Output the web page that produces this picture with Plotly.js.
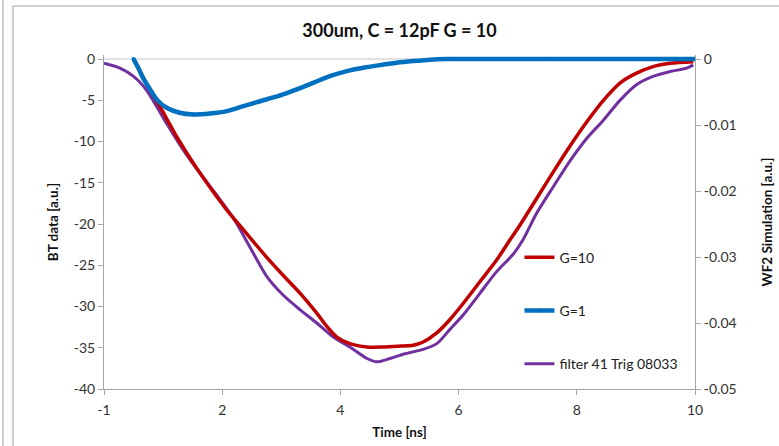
<!DOCTYPE html>
<html>
<head>
<meta charset="utf-8">
<script src="https://cdn.plot.ly/plotly-3.0.1.min.js"></script>
<style>html,body{margin:0;padding:0;background:#fff;}#chart{width:779px;height:446px;}</style>
</head>
<body>
<div id="chart"></div>
<script>
// X axis tick positions and their printed labels
const xTickVals = [0, 2, 4, 6, 8, 10];
const xTickText = ['-1', '2', '4', '6', '8', '10'];
// Left axis ticks
const yTickVals = [0, -5, -10, -15, -20, -25, -30, -35, -40];
const yTickText = ['0', '-5', '-10', '-15', '-20', '-25', '-30', '-35', '-40'];
// Right axis ticks
const y2TickVals = [0, -0.01, -0.02, -0.03, -0.04, -0.05];
const y2TickText = ['0', '-0.01', '-0.02', '-0.03', '-0.04', '-0.05'];

// G=10 (right axis, WF2 Simulation)
const g10Time = [0.5,0.58,0.66,0.72,0.95,1.23,1.51,1.79,2.08,2.36,2.75,3.03,3.32,3.60,3.77,3.94,4.16,4.45,4.72,5.01,5.23,5.40,5.63,5.85,6.08,6.36,6.64,6.87,7.04,7.32,7.60,7.88,8.17,8.45,8.73,9.01,9.29,9.58,9.97];
const g10Vals = [0,-0.00138,-0.00275,-0.00375,-0.00725,-0.01175,-0.01575,-0.01938,-0.02288,-0.02588,-0.03,-0.03275,-0.0355,-0.0385,-0.0405,-0.04213,-0.04313,-0.04363,-0.04363,-0.0435,-0.04338,-0.04288,-0.0415,-0.0395,-0.037,-0.03375,-0.0305,-0.02738,-0.02513,-0.02113,-0.01713,-0.01325,-0.0095,-0.00625,-0.00363,-0.00213,-0.00113,-0.00063,-0.00038];

// G=1 (right axis, WF2 Simulation)
const g1Time = [0.5,0.58,0.66,0.78,0.89,1.06,1.28,1.51,1.79,2.08,2.36,2.64,2.98,3.26,3.54,3.82,4.11,4.39,4.67,4.95,5.23,5.52,5.8,6.5,7.5,8.5,9.5,10];
const g1Vals = [0,-0.00131,-0.00284,-0.00459,-0.0061,-0.00738,-0.00813,-0.00838,-0.00825,-0.00788,-0.00713,-0.00638,-0.0055,-0.00459,-0.00359,-0.00258,-0.00181,-0.00131,-0.00091,-0.00056,-0.0003,-0.00008,0,0,0,0,0,0];

// filter 41 Trig 08033 (left axis, BT data)
const btTime = [0,0.27,0.5,0.67,0.83,1.06,1.34,1.62,1.91,2.19,2.47,2.75,3.03,3.32,3.60,3.88,4.16,4.45,4.62,4.84,5.01,5.23,5.40,5.63,5.85,6.08,6.36,6.64,6.93,7.09,7.32,7.60,7.88,8.17,8.45,8.73,9.01,9.29,9.58,9.86,9.97];
const btVals = [-0.5,-1.1,-2.1,-3.3,-5.0,-7.8,-11.0,-13.8,-16.5,-19.3,-22.8,-26.3,-28.6,-30.4,-32.0,-33.7,-34.9,-36.3,-36.7,-36.3,-35.9,-35.5,-35.2,-34.5,-32.8,-31.0,-28.4,-25.8,-23.6,-21.9,-18.7,-15.5,-12.4,-9.6,-7.4,-5.0,-3.1,-2.1,-1.5,-1.1,-0.7];

const FONT = 'Lato, "Open Sans", sans-serif';
const AX = '#a6a6a6';

const traces = [
  {x: g10Time, y: g10Vals, yaxis: 'y2', name: 'G=10', mode: 'lines', legendgroup: 'a',
   line: {color: '#c00000', width: 3.5, shape: 'spline', smoothing: 0.8}},
  {x: g1Time, y: g1Vals, yaxis: 'y2', name: 'G=1', mode: 'lines+markers', legendgroup: 'b',
   line: {color: '#0070c0', width: 4.5, shape: 'spline', smoothing: 0.8}, marker: {color: '#0070c0', size: 4}},
  {x: btTime, y: btVals, yaxis: 'y', name: 'filter 41 Trig 08033', mode: 'lines', legendgroup: 'c',
   line: {color: '#7030a0', width: 3, shape: 'spline', smoothing: 0.8}}
];

const layout = {
  width: 779, height: 446,
  margin: {l: 104, r: 84, t: 55, b: 57},
  paper_bgcolor: '#fff', plot_bgcolor: '#fff',
  font: {family: FONT, size: 14, color: '#333'},
  title: {text: '<b>300um, C = 12pF G = 10</b>', x: 0.5, xref: 'paper', xanchor: 'center',
          y: 1 - 31/446, yanchor: 'middle', font: {family: FONT, size: 18, color: '#111'}},
  xaxis: {range: [0, 10], tickvals: xTickVals, ticktext: xTickText,
          showline: true, linecolor: AX, linewidth: 1, ticks: 'outside', ticklen: 5, tickcolor: AX,
          showgrid: false, zeroline: false, ticklabelstandoff: 3,
          title: {text: '<b>Time [ns]</b>', font: {size: 13.5, color: '#111'}, standoff: 10}},
  yaxis: {range: [-40, 0.5], tickvals: yTickVals, ticktext: yTickText,
          showline: true, linecolor: AX, linewidth: 1, ticks: 'outside', ticklen: 5, tickcolor: AX,
          showgrid: false, zeroline: false,
          title: {text: '<b>BT data [a.u.]</b>', font: {size: 13.5, color: '#111'}, standoff: 12}},
  yaxis2: {range: [-0.05, 0.000625], overlaying: 'y', side: 'right',
           tickvals: y2TickVals, ticktext: y2TickText,
           showline: true, linecolor: AX, linewidth: 1, ticks: 'outside', ticklen: 5, tickcolor: AX,
           showgrid: false, zeroline: false,
           title: {text: '<b>WF2 Simulation [a.u.]</b>', font: {size: 13.5, color: '#111'}, standoff: 26}},
  showlegend: true,
  legend: {x: 0.703, xanchor: 'left', y: 0.441, yanchor: 'top', bgcolor: 'rgba(0,0,0,0)',
           font: {size: 14, color: '#222'}, tracegroupgap: 32, traceorder: 'grouped'},
  shapes: [
    {type: 'line', xref: 'paper', yref: 'y', x0: 0, x1: 1, y0: 0, y1: 0, layer: 'below',
     line: {color: '#d9d9d9', width: 1.5}},
    {type: 'rect', xref: 'paper', yref: 'paper', x0: -0.154, x1: 1.2, y0: -0.3, y1: (389-6)/334,
     line: {color: '#a0a0a0', width: 1}},
    {type: 'line', xref: 'paper', yref: 'paper', x0: -0.171, x1: -0.171, y0: -0.3, y1: 1.3,
     line: {color: '#a0a0a0', width: 1}}
  ]
};

Plotly.newPlot('chart', traces, layout, {displayModeBar: false, staticPlot: true});
</script>
</body>
</html>
